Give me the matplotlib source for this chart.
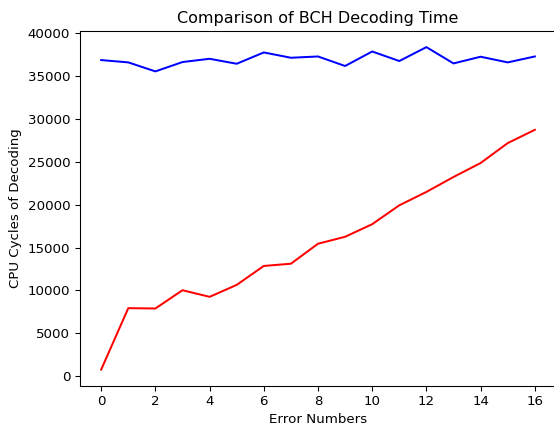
import matplotlib
matplotlib.use("Agg")
import matplotlib.pyplot as plt

# error counts and measured cycles
errors = list(range(17))
cycles_red = [780, 7940, 7900, 10030, 9260, 10650, 12860, 13120, 15450, 16260,
              17730, 19930, 21490, 23230, 24860, 27180, 28730]
cycles_blue = [36860, 36590, 35540, 36630, 37010, 36430, 37750, 37130, 37280,
               36170, 37860, 36750, 38370, 36470, 37250, 36590, 37280]

dpi = 96
fig = plt.figure(figsize=(554 / dpi, 425 / dpi), dpi=dpi)
ax = fig.add_axes([79.5 / 554, (425 - 385.7) / 425, 477 / 554, 354.7 / 425])

ax.plot(errors, cycles_red, color='r')
ax.plot(errors, cycles_blue, color='b')

ax.set_xticks(range(0, 17, 2))
ax.set_xlabel('Error Numbers')
ax.set_ylabel('CPU Cycles of Decoding')
ax.set_title('Comparison of BCH Decoding Time')

fig.savefig('out.png', dpi=dpi)
